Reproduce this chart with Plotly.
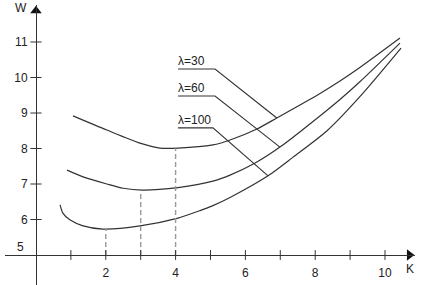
import plotly.graph_objects as go

# ---- data ----
K30 = [1.06, 2.03, 2.98, 3.55, 4.07, 5.07, 5.56, 6.33, 6.90, 8.14, 8.71, 9.28, 10.43]
W30 = [8.92, 8.52, 8.15, 8.01, 8.01, 8.10, 8.24, 8.55, 8.86, 9.55, 9.90, 10.28, 11.11]

K60 = [0.89, 1.35, 2.03, 2.50, 3.04, 4.07, 5.07, 5.56, 6.28, 6.99, 8.34, 8.71, 9.28, 10.43]
W60 = [7.39, 7.20, 7.00, 6.88, 6.83, 6.90, 7.08, 7.25, 7.59, 8.04, 9.08, 9.38, 9.88, 10.97]

K100 = [0.69, 0.77, 0.97, 1.35, 1.92, 2.98, 4.07, 4.70, 5.07, 5.56, 6.65, 7.36, 8.34, 9.28, 10.46]
W100 = [6.41, 6.18, 5.99, 5.82, 5.73, 5.82, 6.04, 6.25, 6.39, 6.62, 7.23, 7.75, 8.50, 9.46, 10.83]

# optimum markers (dashed drops)
opt_K = [2, 3, 4]
opt_W = [5.73, 6.80, 8.01]

# curve labels with leader lines
lab_text = ["λ=30", "λ=60", "λ=100"]
lab_K = [4.07, 4.07, 4.07]
lab_W = [10.24, 9.48, 8.58]
corner_K = [5.13, 5.13, 5.07]
target_K = [6.90, 6.99, 6.65]
target_W = [8.86, 8.04, 7.23]

x_ticks = [1, 2, 3, 4, 5, 6, 7, 8, 9, 10]
x_ticklabels = [2, 4, 6, 8, 10]
y_ticks = [6, 7, 8, 9, 10, 11]
W_base = 5

X_RANGE = [-0.888, 10.86]
Y_RANGE = [4.155, 12.042]

LINE = "#333333"
FONT = dict(family="Liberation Sans, Arial, sans-serif", size=12, color="#222222")

fig = go.Figure()

for K, W in [(K30, W30), (K60, W60), (K100, W100)]:
    fig.add_trace(go.Scatter(x=K, y=W, mode="lines",
                             line=dict(color=LINE, width=1.2, shape="spline", smoothing=0.7),
                             hoverinfo="skip", showlegend=False))

for k, w in zip(opt_K, opt_W):
    fig.add_trace(go.Scatter(x=[k, k], y=[W_base, w], mode="lines",
                             line=dict(color="#999999", width=1.4, dash="5px,3px"),
                             hoverinfo="skip", showlegend=False))

for t, lk, lw, ck, tk, tw in zip(lab_text, lab_K, lab_W, corner_K, target_K, target_W):
    fig.add_trace(go.Scatter(x=[lk, ck, tk], y=[lw, lw, tw], mode="lines",
                             line=dict(color=LINE, width=1.1),
                             hoverinfo="skip", showlegend=False))
    fig.add_annotation(x=lk, y=lw, text=t, showarrow=False, xanchor="left",
                       yanchor="bottom", xshift=-2, yshift=-1, font=FONT)

# crossing tick marks
fig.add_trace(go.Scatter(x=x_ticks, y=[W_base] * len(x_ticks), mode="markers",
                         marker=dict(symbol="line-ns", size=7, line=dict(color=LINE, width=1)),
                         cliponaxis=False, hoverinfo="skip", showlegend=False))
fig.add_trace(go.Scatter(x=[0] * len(y_ticks), y=y_ticks, mode="markers",
                         marker=dict(symbol="line-ew", size=8, line=dict(color=LINE, width=1)),
                         cliponaxis=False, hoverinfo="skip", showlegend=False))
# arrow heads
fig.add_trace(go.Scatter(x=[10.70], y=[W_base], mode="markers",
                         marker=dict(symbol="triangle-right", size=10, color="#111111"),
                         cliponaxis=False, hoverinfo="skip", showlegend=False))
fig.add_trace(go.Scatter(x=[0], y=[11.88], mode="markers",
                         marker=dict(symbol="triangle-up", size=10, color="#111111"),
                         cliponaxis=False, hoverinfo="skip", showlegend=False))

fig.add_annotation(x=10.72, y=W_base, text="K", showarrow=False, yshift=-14, font=FONT)
fig.add_annotation(x=0, y=11.9, text="W", showarrow=False, xshift=-15, yshift=2, font=FONT)
fig.add_annotation(x=0, y=W_base, text="5", showarrow=False, xshift=-15, yshift=8, font=FONT)

xpos = (0 - X_RANGE[0]) / (X_RANGE[1] - X_RANGE[0])
ypos = (W_base - Y_RANGE[0]) / (Y_RANGE[1] - Y_RANGE[0])

fig.update_layout(
    width=426, height=285,
    margin=dict(l=5, r=11, t=5, b=0),
    paper_bgcolor="white", plot_bgcolor="white",
    font=FONT,
    xaxis=dict(range=X_RANGE, anchor="free", position=ypos, showline=True,
               linecolor=LINE, linewidth=1.3, showgrid=False, zeroline=False,
               tickvals=x_ticklabels, ticks="", ticklabelstandoff=6, tickfont=FONT),
    yaxis=dict(range=Y_RANGE, anchor="free", position=xpos, showline=True,
               linecolor=LINE, linewidth=1.3, showgrid=False, zeroline=False,
               tickvals=y_ticks, ticks="", ticklabelstandoff=6, tickfont=FONT),
)

fig.write_html("out.html", config={"displayModeBar": False, "staticPlot": True},
               post_script="document.body.style.margin='0';document.body.style.overflow='hidden';")
